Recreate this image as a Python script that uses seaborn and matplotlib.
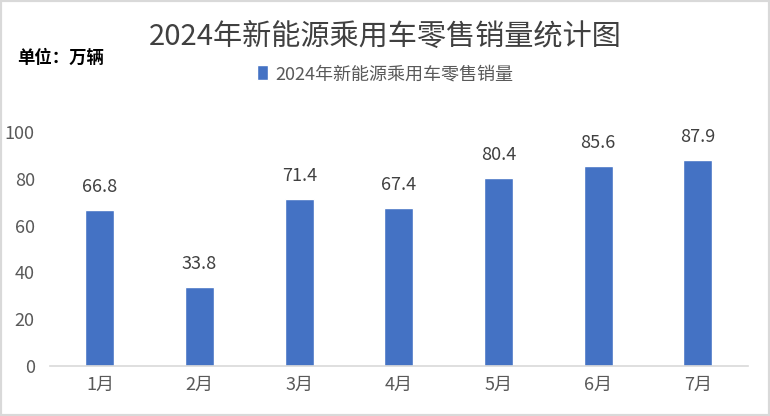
import matplotlib
matplotlib.use("Agg")
import matplotlib.pyplot as plt
import seaborn as sns
import pandas as pd
from matplotlib.patches import Rectangle

months = ["1月", "2月", "3月", "4月", "5月", "6月", "7月"]
sales = [66.8, 33.8, 71.4, 67.4, 80.4, 85.6, 87.9]
series_name = "2024年新能源乘用车零售销量"
title = "2024年新能源乘用车零售销量统计图"
unit = "单位：万辆"
yticks = [0, 20, 40, 60, 80, 100]

sns.set_theme(style="white")
plt.rcParams['font.family'] = ['Noto Sans CJK SC', 'DejaVu Sans']

df = pd.DataFrame({"month": months, "sales": sales, "series": series_name})

fig = plt.figure(figsize=(7.7, 4.16), dpi=100)
ax = fig.add_axes([0.065, 0.12, 0.906, 0.563])

sns.barplot(data=df, x="month", y="sales", hue="series", palette=["#4472C4"],
            width=0.29, ax=ax, saturation=1, legend=True)

ax.set_ylim(0, 100)
ax.set_yticks(yticks)
ax.set_xlim(-0.5, len(months) - 0.5)
ax.set_xlabel("")
ax.set_ylabel("")
for s in ["top", "right", "left"]:
    ax.spines[s].set_visible(False)
ax.spines["bottom"].set_color("#D9D9D9")
ax.spines["bottom"].set_linewidth(1.2)
ax.tick_params(axis="both", length=0, colors="#595959", labelsize=13)
ax.tick_params(axis="y", pad=11)
ax.tick_params(axis="x", pad=7)

for c in ax.containers:
    ax.bar_label(c, labels=[f"{v:.1f}" for v in sales], padding=10,
                 fontsize=13, color="#404040")

leg = ax.legend(loc="center", bbox_to_anchor=(0.5, 0.822), bbox_transform=fig.transFigure,
                frameon=False, fontsize=13, handlelength=0.6, handleheight=0.9,
                handletextpad=0.4, labelcolor="#595959")

fig.text(0.5, 0.91, title, ha="center", va="center", fontsize=21, color="#404040")
fig.text(0.022, 0.862, unit, ha="left", va="center", fontsize=12.5,
         fontweight="bold", color="#000000")

fig.patches.append(Rectangle((0, 0), 1, 1, transform=fig.transFigure, fill=False,
                             edgecolor="#D9D9D9", linewidth=3, zorder=10))

fig.savefig("out.png", dpi=100, facecolor="white")
